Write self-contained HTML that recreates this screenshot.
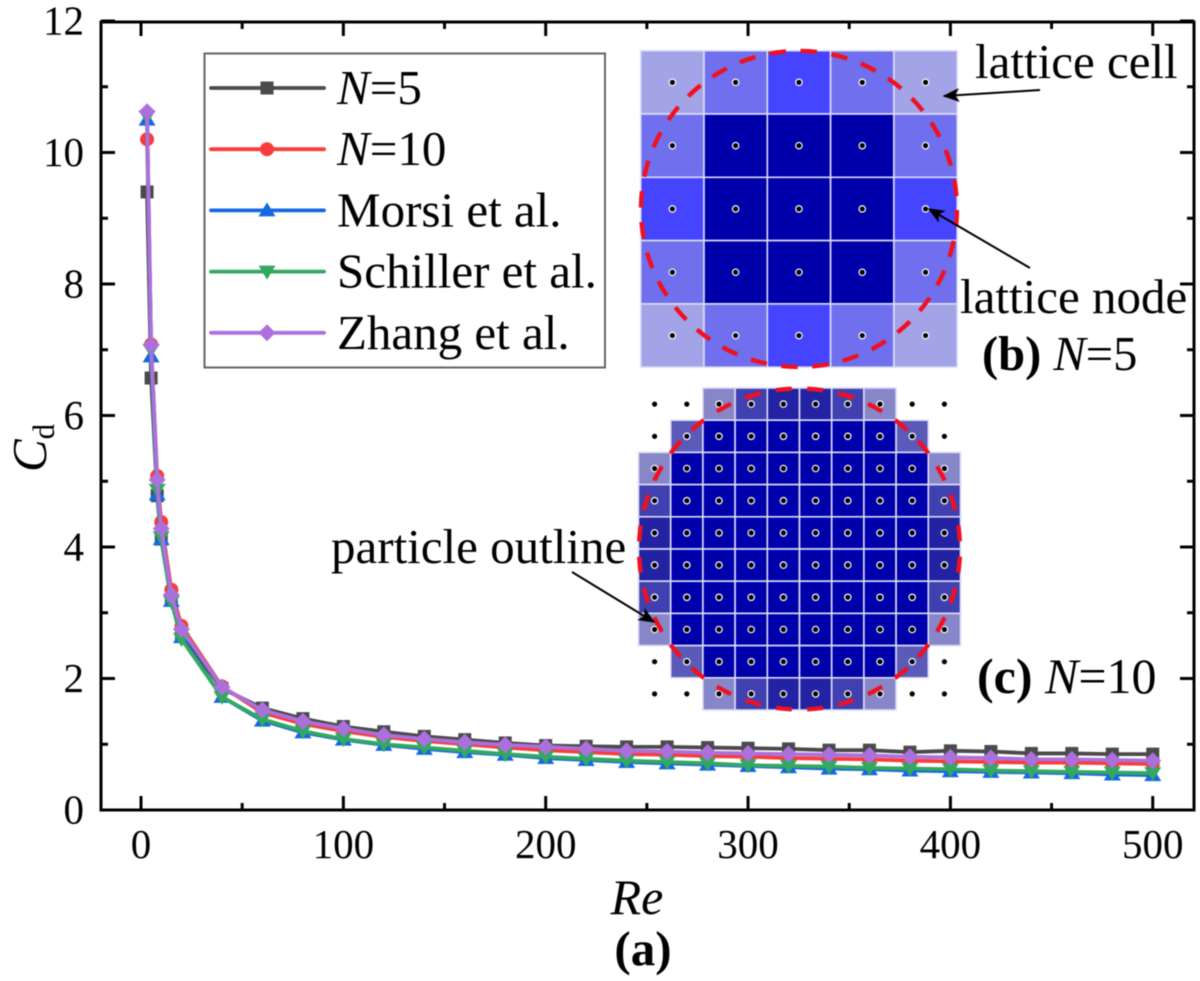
<!DOCTYPE html>
<html lang="en">
<head>
<meta charset="utf-8">
<title>Drag coefficient versus Reynolds number</title>
<style>
html,body{margin:0;padding:0;background:#fff;}
#chart{display:block;width:1200px;height:981px;filter:blur(0.5px);}
text{font-family:"Liberation Serif",serif;fill:#000;}
</style>
</head>
<body>
<svg id="chart" xmlns="http://www.w3.org/2000/svg" width="1200" height="981" viewBox="0 0 1200 981">
  <defs>
    <marker id="arrow-head" viewBox="0 0 12 10" refX="11" refY="5" markerUnits="userSpaceOnUse" markerWidth="18" markerHeight="14" orient="auto">
      <path d="M0 0 L12 5 L0 10 L3 5 Z" fill="#000"/>
    </marker>
  </defs>
  <g id="series-layer"></g>
  <g id="axes-layer"></g>
  <g id="legend"></g>
  <g id="panel-b"></g>
  <g id="panel-c"></g>

  <line x1="1040" y1="90" x2="944" y2="96" stroke="#000" stroke-width="2" marker-end="url(#arrow-head)"/>
  <line x1="1030" y1="268" x2="929" y2="209" stroke="#000" stroke-width="2" marker-end="url(#arrow-head)"/>
  <line x1="572" y1="572" x2="654" y2="622" stroke="#000" stroke-width="2" marker-end="url(#arrow-head)"/>

  <text x="975" y="78" font-size="49">lattice cell</text>
  <text x="960" y="313" font-size="49">lattice node</text>
  <text x="331" y="563" font-size="49">particle outline</text>
  <text x="982" y="370" font-size="48.5"><tspan font-weight="bold">(b)</tspan> <tspan font-style="italic">N</tspan>=5</text>
  <text x="977" y="693" font-size="50"><tspan font-weight="bold">(c)</tspan> <tspan font-style="italic">N</tspan>=10</text>
  <text x="637" y="914" font-size="50" font-style="italic" text-anchor="middle">Re</text>
  <text x="643" y="965" font-size="49" font-weight="bold" text-anchor="middle">(a)</text>
  <text transform="translate(46 472) rotate(-90)" font-size="49"><tspan font-style="italic">C</tspan><tspan font-size="31" dy="8">d</tspan></text>
</svg>

<script>
const reValues = [3,5,8,10,15,20,40,60,80,100,120,140,160,180,200,220,240,260,280,300,320,340,360,380,400,420,440,460,480,500];
const cdN5 = [9.4,6.57,4.78,4.12,3.2,2.68,1.85,1.55,1.39,1.27,1.19,1.12,1.07,1.02,0.98,0.97,0.96,0.96,0.95,0.94,0.93,0.91,0.91,0.88,0.9,0.89,0.86,0.86,0.85,0.85];
const cdN10 = [10.2,7.08,5.08,4.38,3.35,2.8,1.88,1.48,1.31,1.2,1.11,1.05,1.0,0.95,0.91,0.88,0.85,0.84,0.82,0.81,0.79,0.78,0.77,0.75,0.74,0.73,0.72,0.72,0.71,0.7];
const cdMorsi = [10.5,6.9,4.8,4.12,3.18,2.63,1.72,1.36,1.18,1.07,0.99,0.93,0.88,0.84,0.79,0.76,0.73,0.71,0.69,0.67,0.65,0.63,0.62,0.6,0.59,0.58,0.57,0.56,0.54,0.53];
const cdSchiller = [10.55,7.0,4.87,4.15,3.17,2.6,1.72,1.38,1.2,1.08,1.0,0.95,0.9,0.85,0.81,0.78,0.75,0.73,0.71,0.68,0.67,0.66,0.64,0.63,0.62,0.6,0.59,0.58,0.57,0.56];
const cdZhang = [10.62,7.07,5.02,4.28,3.27,2.75,1.87,1.52,1.35,1.24,1.14,1.08,1.03,0.99,0.96,0.93,0.9,0.89,0.87,0.86,0.85,0.84,0.83,0.81,0.8,0.79,0.77,0.77,0.76,0.75];
const seriesNames = ["N=5","N=10","Morsi et al.","Schiller et al.","Zhang et al."];
const xTickLabels = [0,100,200,300,400,500];
const yTickLabels = [0,2,4,6,8,10,12];

const NS = "http://www.w3.org/2000/svg";
const plotLeft = 101, plotRight = 1194, plotTop = 22, plotBottom = 810;
const xScale = v => 141 + v * 2.0235;
const yScale = v => 810 - v * 65.75;

function mk(parent, tag, attrs) {
  const el = document.createElementNS(NS, tag);
  for (const k in attrs) el.setAttribute(k, attrs[k]);
  parent.appendChild(el);
  return el;
}

function drawMarker(parent, kind, x, y, color) {
  let el;
  if (kind === "square") el = mk(parent, "rect", {x: x - 6.5, y: y - 6.5, width: 13, height: 13, fill: color});
  else if (kind === "circle") el = mk(parent, "circle", {cx: x, cy: y, r: 7, fill: color});
  else if (kind === "up") el = mk(parent, "polygon", {points: `${x},${y - 8} ${x + 8.5},${y + 6} ${x - 8.5},${y + 6}`, fill: color});
  else if (kind === "down") el = mk(parent, "polygon", {points: `${x - 8.5},${y - 6} ${x + 8.5},${y - 6} ${x},${y + 8}`, fill: color});
  else el = mk(parent, "polygon", {points: `${x},${y - 8.5} ${x + 8.5},${y} ${x},${y + 8.5} ${x - 8.5},${y}`, fill: color});
  return el;
}

/* ---------- series ---------- */
const seriesValues = [cdN5, cdN10, cdMorsi, cdSchiller, cdZhang];
const seriesColors = ["#4a4a4a","#f83c3c","#1668e0","#32a860","#ac70dd"];
const seriesMarkers = ["square","circle","up","down","diamond"];
const seriesKeys = ["n5","n10","morsi","schiller","zhang"];
const seriesLayer = document.getElementById("series-layer");
seriesValues.forEach((vals, i) => {
  const g = mk(seriesLayer, "g", {});
  
  
  const pts = vals.map((v, j) => xScale(reValues[j]).toFixed(2) + "," + yScale(v).toFixed(2)).join(" ");
  const line = mk(g, "polyline", {points: pts, fill: "none", stroke: seriesColors[i], "stroke-width": 3.8, "stroke-linejoin": "round"});
  
  
  vals.forEach((v, j) => {
    const m = drawMarker(g, seriesMarkers[i], xScale(reValues[j]), yScale(v), seriesColors[i]);
    
    
  });
});

/* ---------- axes ---------- */
const axes = document.getElementById("axes-layer");
const frame = mk(axes, "rect", {x: plotLeft, y: plotTop, width: plotRight - plotLeft, height: plotBottom - plotTop, fill: "none", stroke: "#000", "stroke-width": 3});



function tick(x1, y1, x2, y2, name) {
  const t = mk(axes, "line", {x1, y1, x2, y2, stroke: "#000", "stroke-width": 3});
  
  
}
xTickLabels.forEach((v, i) => {
  const x = xScale(v);
  tick(x, plotBottom, x, plotBottom - 14, 'x-major-tick');
  tick(x, plotTop, x, plotTop + 14, 'x-top-major-tick');
  const label = mk(axes, "text", {x, y: 858, "font-size": 41, "text-anchor": "middle"});
  label.textContent = v;
  
  
  if (i < xTickLabels.length - 1) {
    const xm = xScale((v + xTickLabels[i + 1]) / 2);
    tick(xm, plotBottom, xm, plotBottom - 7, 'x-minor-tick');
    tick(xm, plotTop, xm, plotTop + 7, 'x-top-minor-tick');
  }
});
yTickLabels.forEach((v, i) => {
  const y = yScale(v);
  tick(plotLeft, y, plotLeft + 14, y, 'y-major-tick');
  tick(plotRight, y, plotRight - 14, y, 'y-right-major-tick');
  const label = mk(axes, "text", {x: 84, y: y + 13.5, "font-size": 41, "text-anchor": "end"});
  label.textContent = v;
  
  
  if (i < yTickLabels.length - 1) {
    const ym = yScale((v + yTickLabels[i + 1]) / 2);
    tick(plotLeft, ym, plotLeft + 7, ym, 'y-minor-tick');
    tick(plotRight, ym, plotRight - 7, ym, 'y-right-minor-tick');
  }
});

/* ---------- legend ---------- */
const legend = document.getElementById("legend");
const legendBox = mk(legend, "rect", {x: 204.5, y: 53.5, width: 400.5, height: 314, fill: "#fff", stroke: "#666", "stroke-width": 2});


seriesNames.forEach((name, i) => {
  const y = 88 + i * 61.2;
  const g = mk(legend, "g", {});
  
  
  mk(g, "line", {x1: 211, y1: y, x2: 324, y2: y, stroke: seriesColors[i], "stroke-width": 3.8, "stroke-linecap": "round"});
  drawMarker(g, seriesMarkers[i], 267, y, seriesColors[i]);
  const t = mk(g, "text", {x: 337, y: y + 16, "font-size": 49});
  if (name.startsWith("N=")) {
    const n = mk(t, "tspan", {"font-style": "italic"});
    n.textContent = "N";
    t.appendChild(document.createTextNode(name.slice(1)));
  } else {
    t.textContent = name;
  }
});

/* ---------- lattice panels ---------- */
function drawNode(parent, x, y, ring) {
  if (ring) {
    const r = mk(parent, "circle", {cx: x, cy: y, r: 3.2, fill: "#000", stroke: "#fff", "stroke-width": 1.2});
    
    
  } else {
    const r = mk(parent, "circle", {cx: x, cy: y, r: 2.6, fill: "#000"});
    
    
  }
}

function drawPanel(id, left, top, cell, shades) {
  const g = document.getElementById(id);
  const n = shades.length;
  shades.forEach((row, r) => {
    row.forEach((color, c) => {
      if (color) {
        const sq = mk(g, "rect", {x: left + c * cell, y: top + r * cell, width: cell, height: cell, fill: color, stroke: "#dcdcf8", "stroke-width": 1.6});
        
        
      }
    });
  });
  shades.forEach((row, r) => {
    row.forEach((color, c) => {
      drawNode(g, left + (c + 0.5) * cell, top + (r + 0.5) * cell, !!color);
    });
  });
  return {g, cx: left + n * cell / 2, cy: top + n * cell / 2};
}

const L = "#a3a3e8", E = "#7070ee", M = "#4545ff", D = "#0000aa";
const panelB = drawPanel("panel-b", 640.7, 50.7, 63.3, [
  [L,E,M,E,L],
  [E,D,D,D,E],
  [M,D,D,D,M],
  [E,D,D,D,E],
  [L,E,M,E,L]
]);
const a = "#8686c8", b = "#4040b0", c = "#2222a2", d = "#5a5ab8", o = "";
const panelC = drawPanel("panel-c", 638.5, 388, 32.2, [
  [o,o,a,b,c,c,b,a,o,o],
  [o,d,D,D,D,D,D,D,d,o],
  [a,D,D,D,D,D,D,D,D,a],
  [b,D,D,D,D,D,D,D,D,b],
  [c,D,D,D,D,D,D,D,D,c],
  [c,D,D,D,D,D,D,D,D,c],
  [b,D,D,D,D,D,D,D,D,b],
  [a,D,D,D,D,D,D,D,D,a],
  [o,d,D,D,D,D,D,D,d,o],
  [o,o,a,b,c,c,b,a,o,o]
]);

const outlineB = mk(panelB.g, "circle", {cx: panelB.cx, cy: panelB.cy, r: 158, fill: "none", stroke: "#f01020", "stroke-width": 4.4, "stroke-dasharray": "16.5 14.53", "stroke-dashoffset": -1.1});


const outlineC = mk(panelC.g, "circle", {cx: panelC.cx, cy: panelC.cy, r: 160.5, fill: "none", stroke: "#f01020", "stroke-width": 4.4, "stroke-dasharray": "16 15.5", "stroke-dashoffset": -7.75});


</script>
</body>
</html>
